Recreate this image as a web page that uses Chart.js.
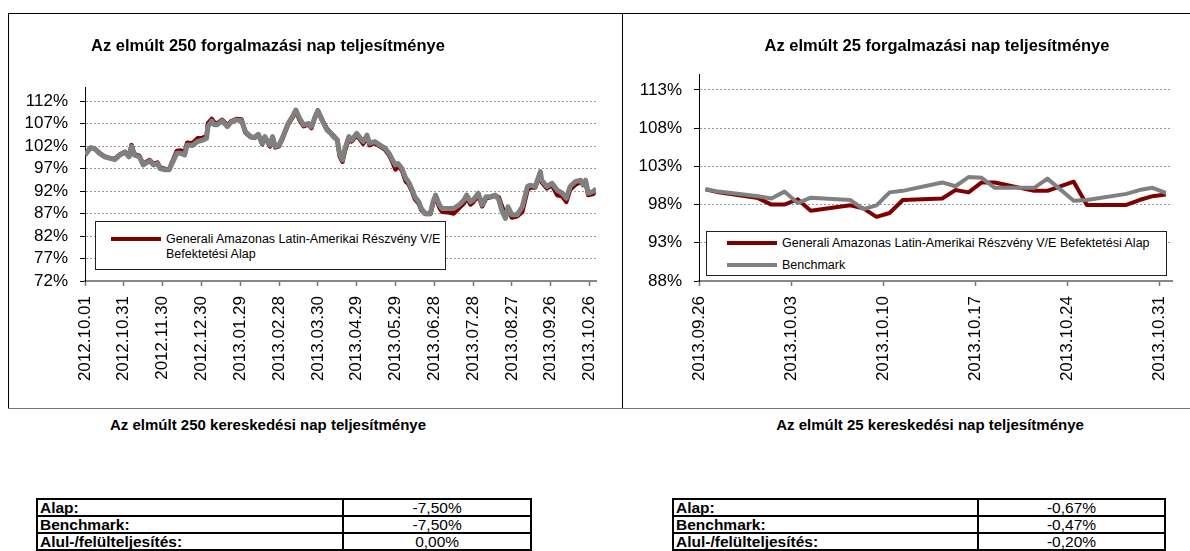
<!DOCTYPE html>
<html><head><meta charset="utf-8">
<script src="https://cdn.jsdelivr.net/npm/chart.js@4/dist/chart.umd.min.js"></script>
<style>
html,body{margin:0;padding:0;background:#fff;}
body{width:1190px;height:551px;position:relative;overflow:hidden;font-family:"Liberation Sans",Arial,Helvetica,sans-serif;color:#000;}
.a{position:absolute;}
.ttl{position:absolute;font-weight:bold;text-align:center;white-space:nowrap;}
.leg{position:absolute;border:1px solid #222;background:#fff;box-sizing:border-box;}
.sw{position:absolute;height:4px;}
.lt{position:absolute;font-size:12.5px;line-height:15px;white-space:nowrap;}
table.t{position:absolute;border-collapse:collapse;font-size:15.5px;}
table.t td{border:2px solid #000;height:15px;padding:0 2px;line-height:15px;}
table.t td.l{font-weight:bold;text-align:left;}
table.t td.v{text-align:center;}
canvas{position:absolute;}
</style></head><body>

<div class="a" style="left:8px;top:13px;width:1182px;height:1px;background:#000"></div>
<div class="a" style="left:8px;top:13px;width:1px;height:396px;background:#000"></div>
<div class="a" style="left:622px;top:13px;width:1px;height:396px;background:#000"></div>
<div class="a" style="left:8px;top:408px;width:1182px;height:1px;background:#777"></div>

<canvas id="c1" width="622" height="410" style="left:0;top:0"></canvas>
<canvas id="c2" width="568" height="410" style="left:622px;top:0"></canvas>

<div class="ttl" style="left:68px;width:400px;top:35px;font-size:16.5px;line-height:20px">Az elmúlt 250 forgalmazási nap teljesítménye</div>
<div class="ttl" style="left:737px;width:400px;top:35px;font-size:16.5px;line-height:20px">Az elmúlt 25 forgalmazási nap teljesítménye</div>

<div id="leg1" class="leg" style="left:95px;top:221px;width:351px;height:49px"></div>
<div id="leg2" class="leg" style="left:706px;top:231px;width:461px;height:45px"></div>

<div class="ttl" style="left:68px;width:400px;top:416px;font-size:15px;line-height:18px">Az elmúlt 250 kereskedési nap teljesítménye</div>
<div class="ttl" style="left:730px;width:400px;top:416px;font-size:15px;line-height:18px">Az elmúlt 25 kereskedési nap teljesítménye</div>

<table class="t" id="tb1" style="left:36px;top:498px;width:496px"></table>
<table class="t" id="tb2" style="left:672px;top:498px;width:494px"></table>

<script>
// ---------- data: last 250 days ----------
const start250 = '2012.10.01';
const ticks250 = ['2012.10.01','2012.10.31','2012.11.30','2012.12.30','2013.01.29','2013.02.28','2013.03.30','2013.04.29','2013.05.29','2013.06.28','2013.07.28','2013.08.27','2013.09.26','2013.10.26'];
const end250 = '2013.10.31';
const days250 = [0,4,7,11,15,19,23,27,31,34,36,38,42,45,50,53,56,58,62,65,68,71,74,77,79,83,87,91,94,95,98,100,102,106,110,113,117,121,124,128,131,134,137,139,143,145,147,150,153,157,161,163,166,169,173,175,178,180,183,187,190,192,195,197,199,201,204,206,210,213,215,218,220,224,228,232,235,237,240,242,245,248,250,253,255,258,260,263,267,269,271,274,276,280,285,289,293,295,298,300,304,307,310,313,317,320,322,325,327,330,334,338,342,344,348,352,353,357,361,365,369,372,375,379,383,385,387,389,393,395];
const bench250 = [100.0,101.5,101.5,100.4,99.6,99.3,99.0,100.0,100.6,99.6,101.9,100.0,99.6,97.8,98.7,97.8,98.1,97.0,96.7,96.7,98.5,100.4,100.4,100.0,102.2,102.1,103.0,103.3,103.7,106.3,107.5,106.7,106.7,107.6,106.3,107.3,107.8,107.6,105.2,104.1,103.9,104.6,102.6,104.1,102.2,104.1,101.9,102.2,104.1,107.0,108.9,110.0,108.1,106.7,107.0,106.3,108.5,109.8,107.8,105.6,104.8,104.1,103.3,100.0,98.9,101.5,104.1,103.3,104.8,103.7,103.0,104.4,102.6,103.0,102.2,101.5,100.4,99.3,97.8,98.1,97.0,94.8,94.1,92.2,90.7,89.6,88.1,87.0,87.0,89.6,91.1,88.9,88.1,88.1,88.1,88.9,90.0,91.1,89.6,90.0,91.5,88.9,90.7,90.7,91.1,90.0,87.8,85.9,88.5,86.7,86.7,88.5,93.0,93.3,93.0,96.3,94.4,93.0,93.7,92.2,91.5,90.4,93.0,94.1,94.4,93.3,94.4,91.5,91.9,92.5];
const fund250 = [100.0,101.6,101.5,100.5,99.7,99.3,99.1,100.1,100.7,99.8,102.2,100.2,99.8,98.0,98.9,98.0,98.3,97.2,96.9,96.8,98.8,100.9,101.0,100.6,102.7,102.6,103.7,103.8,104.2,107.0,108.0,107.2,107.0,107.8,106.6,107.5,108.0,107.9,105.0,104.0,103.8,104.5,102.4,104.0,101.9,103.9,101.7,102.0,103.9,106.8,108.6,109.8,107.7,106.4,106.8,106.0,108.6,109.9,108.0,105.8,104.9,104.3,103.4,99.6,98.5,101.0,103.6,103.0,104.4,103.3,102.5,104.0,102.2,102.7,101.9,101.2,100.0,98.9,96.8,97.6,96.6,94.1,93.6,91.8,90.2,89.2,87.8,86.9,86.9,89.2,90.8,88.3,87.4,87.3,87.0,88.2,89.3,90.5,89.0,89.5,91.0,88.6,90.4,90.6,91.0,90.5,88.8,86.5,87.9,86.1,86.4,87.4,92.2,92.8,92.8,95.8,94.0,92.6,93.3,91.1,90.8,89.6,92.3,93.4,94.0,93.8,94.0,91.1,91.4,92.5];
const yTicks250 = [72,77,82,87,92,97,102,107,112];

// ---------- data: last 25 days ----------
const dates25 = ['2013.09.26','2013.09.27','2013.09.30','2013.10.01','2013.10.02','2013.10.03','2013.10.04','2013.10.07','2013.10.08','2013.10.09','2013.10.10','2013.10.11','2013.10.14','2013.10.15','2013.10.16','2013.10.17','2013.10.18','2013.10.21','2013.10.22','2013.10.24','2013.10.25','2013.10.28','2013.10.29','2013.10.30','2013.10.31'];
const fund25  = [100.0,99.6,98.85,98.0,98.0,98.7,97.2,97.9,97.5,96.4,96.9,98.6,98.8,99.9,99.6,100.9,100.9,99.8,99.8,101.0,97.95,97.95,98.6,99.1,99.33];
const bench25 = [100.0,99.7,99.1,98.8,99.7,98.2,98.9,98.6,97.4,97.9,99.6,99.8,100.9,100.4,101.6,101.5,100.2,100.2,101.4,98.5,98.6,99.4,99.9,100.2,99.53];
const ticks25 = ['2013.09.26','2013.10.03','2013.10.10','2013.10.17','2013.10.24','2013.10.31'];
const end25 = '2013.11.01';
const yTicks25 = [88,93,98,103,108,113];

// ---------- labels / tables ----------
const fundName = 'Generali Amazonas Latin-Amerikai Részvény V/E Befektetési Alap';
const benchName = 'Benchmark';
const rowLabels = ['Alap:','Benchmark:','Alul-/felülteljesítés:'];
const values250 = ['-7,50%','-7,50%','0,00%'];
const values25 = ['-0,67%','-0,47%','-0,20%'];

const RED = '#800000', GRAY = '#808080';
const FONT = '"Liberation Sans", Arial, Helvetica, sans-serif';

function parseD(s){const p=s.split('.').map(Number);return Date.UTC(p[0],p[1]-1,p[2]);}
function dd(a,b){return Math.round((parseD(a)-parseD(b))/86400000);}

function makeChart(id, cfg){
  const tickVals = cfg.ticks.map(t=>dd(t,cfg.start));
  return new Chart(document.getElementById(id),{
    type:'line',
    data:{datasets:[
      {label:fundName,data:cfg.fx.map((x,i)=>({x:x,y:cfg.fund[i]})),borderColor:RED,borderWidth:cfg.lwR,pointRadius:0,tension:0,borderJoinStyle:'round',borderCapStyle:'butt',order:2},
      {label:benchName,data:cfg.fx.map((x,i)=>({x:x,y:cfg.bench[i]})),borderColor:GRAY,borderWidth:cfg.lwG,pointRadius:0,tension:0,borderJoinStyle:'round',borderCapStyle:'butt',order:1}
    ]},
    options:{
      responsive:false,animation:false,devicePixelRatio:1,
      layout:{padding:{left:0,right:cfg.padR,top:cfg.padT,bottom:0}},
      plugins:{legend:{display:false},title:{display:false},tooltip:{enabled:false}},
      scales:{
        x:{type:'linear',min:0,max:dd(cfg.end,cfg.start),
          afterBuildTicks:s=>{s.ticks=tickVals.map(v=>({value:v}));},
          afterFit:s=>{s.height=cfg.xh;},
          ticks:{autoSkip:false,minRotation:90,maxRotation:90,padding:10,color:'#000',font:{family:FONT,size:17},
            callback:v=>{const i=tickVals.indexOf(v);return i>=0?cfg.ticks[i]:'';}},
          grid:{display:true,drawOnChartArea:false,drawTicks:true,tickLength:5,tickColor:'#777',tickWidth:1.5},
          border:{display:true,color:'#888',width:2}
        },
        y:{type:'linear',min:cfg.ymin,max:cfg.ymax,
          afterBuildTicks:s=>{s.ticks=cfg.yticks.map(v=>({value:v}));},
          afterFit:s=>{s.width=cfg.yw;},
          ticks:{padding:12,color:'#000',font:{family:FONT,size:17},callback:v=>v+'%'},
          grid:{color:'#9a9a9a',lineWidth:1,drawTicks:true,tickLength:5,tickColor:'#000',tickBorderDash:[]},
          border:{display:true,color:'#000',width:1,dash:[2,2]}
        }
      }
    }
  });
}

makeChart('c1',{start:start250,end:end250,ticks:ticks250,fx:days250,fund:fund250,bench:bench250,
  lwR:4.5,lwG:5,padR:26,padT:87.5,xh:129,yw:85,ymin:72,ymax:115,yticks:yTicks250});
makeChart('c2',{start:dates25[0],end:end25,ticks:ticks25,fx:dates25.map(d=>dd(d,dates25[0])+0.5),fund:fund25,bench:bench25,
  lwR:4,lwG:4,padR:15,padT:74.7,xh:129,yw:77,ymin:88,ymax:115,yticks:yTicks25});

// legends (html)
function legItem(box, color, x1, x2, y, tx, text){
  const s=document.createElement('div');s.className='sw';
  s.style.cssText=`left:${x1}px;width:${x2-x1}px;top:${y-2}px;background:${color}`;box.appendChild(s);
  const t=document.createElement('div');t.className='lt';t.style.cssText=`left:${tx}px;top:${y-7.5}px`;t.innerHTML=text;box.appendChild(t);
}
const L1=document.getElementById('leg1');
legItem(L1,RED,15,65,17,70,fundName.replace(' Befektetési','<br>Befektetési'));
const L2=document.getElementById('leg2');
legItem(L2,RED,20,70,11,75,fundName);
legItem(L2,GRAY,20,70,33,75,benchName);

function fillTable(id, vals){
  const tb=document.getElementById(id);
  rowLabels.forEach((l,i)=>{
    const tr=document.createElement('tr');
    const a=document.createElement('td');a.className='l';a.textContent=l;a.style.width='62%';
    const b=document.createElement('td');b.className='v';b.textContent=vals[i];
    tr.appendChild(a);tr.appendChild(b);tb.appendChild(tr);
  });
}
fillTable('tb1',values250);
fillTable('tb2',values25);
</script>
</body></html>
